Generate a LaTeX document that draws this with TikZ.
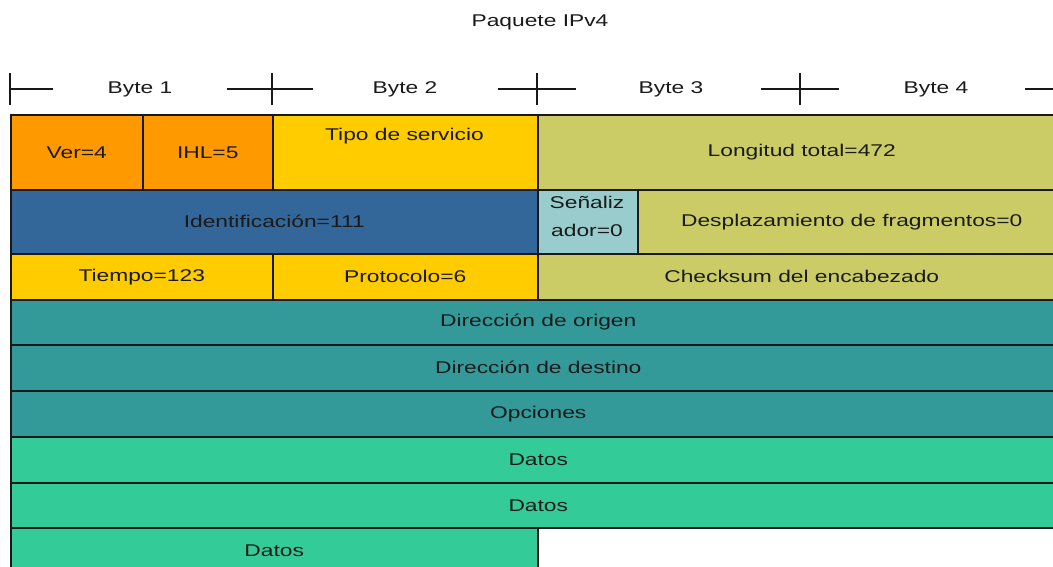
\documentclass[tikz,border=0pt]{standalone}
\usepackage{fontspec}
\setmainfont{Liberation Sans}
\usepackage{graphicx}
\newcommand{\wt}[1]{\scalebox{1.34}[1]{#1}}
\newcommand{\fsz}{\fontsize{17}{28}\selectfont}
\definecolor{cOrange}{HTML}{FF9900}
\definecolor{cYellow}{HTML}{FFCC00}
\definecolor{cOlive}{HTML}{CCCC66}
\definecolor{cBlue}{HTML}{336699}
\definecolor{cLight}{HTML}{99CCCC}
\definecolor{cTeal}{HTML}{339999}
\definecolor{cGreen}{HTML}{33CC99}
\definecolor{cText}{HTML}{1A1A1A}
\begin{document}
\begin{tikzpicture}[x=1pt,y=-1pt,
  cell/.style={draw=black!90, line width=1.5pt, anchor=north west, inner sep=0pt, text=cText, font=\fsz},
  lbl/.style={inner sep=0pt, text=cText, font=\fsz},
  rule/.style={draw=black!90, line width=1.5pt}]
\clip (0,0) rectangle (1053,566);
\fill[white] (0,0) rectangle (1053,566);
% title
\node[lbl] (title) at (540,22) {\wt{Paquete IPv4}};
% header ruler
\coordinate (t0) at (10,89);
\coordinate (t1) at (272,89);
\coordinate (t2) at (537,89);
\coordinate (t3) at (800,89);
\coordinate (t4) at (1065,89);
\foreach \t in {t0,t1,t2,t3,t4}{
  \draw[rule] ([yshift=-16pt]\t) -- ([yshift=16pt]\t);
}
\draw[rule] (t0) -- ([xshift=43pt]t0);
\draw[rule] ([xshift=-45pt]t1) -- ([xshift=41pt]t1);
\draw[rule] ([xshift=-39pt]t2) -- ([xshift=39pt]t2);
\draw[rule] ([xshift=-39pt]t3) -- ([xshift=39pt]t3);
\draw[rule] ([xshift=-40pt]t4) -- ([xshift=40pt]t4);
\node[lbl] (b1) at (140,89) {\wt{Byte 1}};
\node[lbl] (b2) at (405,89) {\wt{Byte 2}};
\node[lbl] (b3) at (671,89) {\wt{Byte 3}};
\node[lbl] (b4) at (936,89) {\wt{Byte 4}};
% row 1
\node[cell, fill=cOrange, minimum width=132pt, minimum height=75pt] (ver) at (10,114) {\wt{Ver=4}};
\node[cell, fill=cOrange, minimum width=130pt, minimum height=75pt] (ihl) at (142,114) {\wt{IHL=5}};
\node[cell, fill=cYellow, minimum width=265pt, minimum height=75pt] (tos) at (272,114) {};
\node[lbl] (tostxt) at (404.5,136) {\wt{Tipo de servicio}};
\node[cell, fill=cOlive, minimum width=528pt, minimum height=75pt] (len) at (537,114) {\wt{Longitud total=472}};
% row 2
\node[cell, fill=cBlue, minimum width=527pt, minimum height=64pt] (ident) at (10,189) {\wt{Identificación=111}};
\node[cell, fill=cLight, minimum width=100pt, minimum height=64pt] (flags) at (537,189) {};
\node[lbl] (flagstxt) at (587,217) {\wt{\begin{tabular}{@{}c@{}}Señaliz\\ador=0\end{tabular}}};
\node[cell, fill=cOlive, minimum width=428pt, minimum height=64pt] (frag) at (637,189) {\wt{Desplazamiento de fragmentos=0}};
% row 3
\node[cell, fill=cYellow, minimum width=262pt, minimum height=46pt] (ttl) at (10,253) {\wt{Tiempo=123}};
\node[cell, fill=cYellow, minimum width=265pt, minimum height=46pt] (proto) at (272,253) {\wt{Protocolo=6}};
\node[cell, fill=cOlive, minimum width=528pt, minimum height=46pt] (chk) at (537,253) {\wt{Checksum del encabezado}};
% rows 4-6
\node[cell, fill=cTeal, minimum width=1055pt, minimum height=45pt] (src) at (10,299) {\wt{Dirección de origen}};
\node[cell, fill=cTeal, minimum width=1055pt, minimum height=46pt] (dst) at (10,344) {\wt{Dirección de destino}};
\node[cell, fill=cTeal, minimum width=1055pt, minimum height=46pt] (opt) at (10,390) {\wt{Opciones}};
% rows 7-9
\node[cell, fill=cGreen, minimum width=1055pt, minimum height=46pt] (dat1) at (10,436) {\wt{Datos}};
\node[cell, fill=cGreen, minimum width=1055pt, minimum height=45pt] (dat2) at (10,482) {\wt{Datos}};
\node[cell, fill=cGreen, minimum width=527pt, minimum height=45pt] (dat3) at (10,527) {\wt{Datos}};
\end{tikzpicture}
\end{document}
